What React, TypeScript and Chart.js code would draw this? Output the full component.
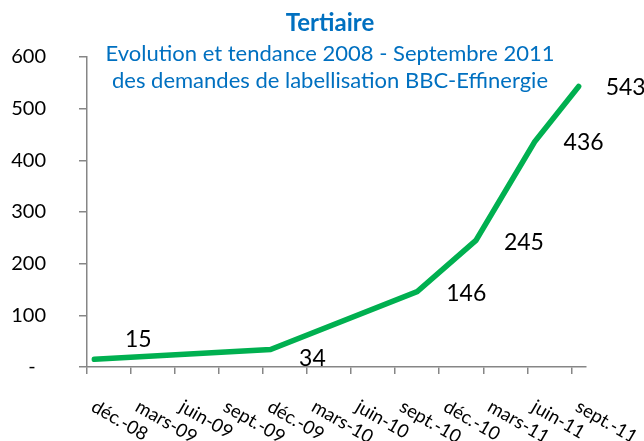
import React, { useEffect, useRef } from 'react';
import { Chart, registerables } from 'chart.js';

Chart.register(...registerables);

// ---- data ----
const pointDates = ['2008-12', '2009-12', '2010-10', '2011-02', '2011-06', '2011-09'];
const values = [15, 34, 146, 245, 436, 543];
const tickLabels = ['déc.-08', 'mars-09', 'juin-09', 'sept.-09', 'déc.-09', 'mars-10', 'juin-10', 'sept.-10', 'déc.-10', 'mars-11', 'juin-11', 'sept.-11'];
const axisStart = '2008-12';
const axisMonths = 34;
const yMin = 0;
const yMax = 600;
const yStep = 100;
const titleText = 'Tertiaire';
const subtitleLines = ['Evolution et tendance 2008 - Septembre 2011', 'des demandes de labellisation BBC-Effinergie'];

// ---- style ----
const labelOffsets: [number, number][] = [[44, -20], [42, 9], [49, 2], [48, 2], [49, 1], [47, 1]];
const FONT = 'Lato, "Open Sans", sans-serif';
const BLUE = '#0070C0';
const GREEN = '#00B050';
const AXIS = '#868686';

const monthIndex = (d: string) => {
  const [y, m] = d.split('-').map(Number);
  const [y0, m0] = axisStart.split('-').map(Number);
  return (y - y0) * 12 + (m - m0);
};

const points = pointDates.map((d, i) => ({ x: monthIndex(d) + 0.5, y: values[i] }));

const textPlugin = {
  id: 'textPlugin',
  afterDraw(chart: any) {
    const ctx = chart.ctx as CanvasRenderingContext2D;
    const xs = chart.scales.x;
    const ys = chart.scales.y;
    ctx.save();
    // title
    ctx.fillStyle = BLUE;
    ctx.textAlign = 'center';
    ctx.textBaseline = 'alphabetic';
    ctx.font = `bold 24px ${FONT}`;
    ctx.fillText(titleText, 330, 31);
    ctx.font = `22px ${FONT}`;
    ctx.fillText(subtitleLines[0], 330, 61);
    ctx.fillText(subtitleLines[1], 330, 88);
    // data labels
    ctx.textBaseline = 'middle';
    ctx.fillStyle = '#000';
    ctx.font = `23px ${FONT}`;
    points.forEach((p, i) => {
      const px = xs.getPixelForValue(p.x);
      const py = ys.getPixelForValue(p.y);
      ctx.fillText(String(values[i]), px + labelOffsets[i][0], py + labelOffsets[i][1]);
    });
    // x tick labels (rotated clockwise)
    ctx.font = `18.5px ${FONT}`;
    ctx.textAlign = 'left';
    ctx.textBaseline = 'middle';
    const angle = (30 * Math.PI) / 180;
    tickLabels.forEach((lab, i) => {
      const tx = xs.getPixelForValue(i * 3);
      ctx.save();
      ctx.translate(tx + 6, xs.top + 38);
      ctx.rotate(angle);
      ctx.fillText(lab, 0, 0);
      ctx.restore();
    });
    ctx.restore();
  },
};

export default function App() {
  const ref = useRef<HTMLCanvasElement>(null);
  useEffect(() => {
    if (!ref.current) return;
    const chart = new Chart(ref.current, {
      type: 'line',
      data: {
        datasets: [
          {
            data: points,
            borderColor: GREEN,
            backgroundColor: GREEN,
            borderWidth: 5.5,
            pointRadius: 0,
            tension: 0,
            borderCapStyle: 'round',
            borderJoinStyle: 'miter',
            fill: false,
          },
        ],
      },
      options: {
        animation: false,
        responsive: false,
        maintainAspectRatio: false,
        layout: { padding: { top: 57, right: 58, left: 0, bottom: 0 } },
        plugins: { legend: { display: false }, tooltip: { enabled: false }, title: { display: false } },
        scales: {
          x: {
            type: 'linear',
            min: 0,
            max: axisMonths,
            afterFit: (s: any) => { s.height = 74; },
            ticks: { stepSize: 3, includeBounds: false, autoSkip: false, maxRotation: 0, callback: () => '' },
            grid: { drawOnChartArea: false, drawTicks: true, tickLength: 7, color: AXIS, lineWidth: 1.5 },
            border: { color: AXIS, width: 1.5 },
          },
          y: {
            min: yMin,
            max: yMax,
            afterFit: (s: any) => { s.width = 87; },
            ticks: {
              stepSize: yStep,
              padding: 33,
              color: '#000',
              font: { family: FONT, size: 20 },
              callback: (v: any) => (v === 0 ? '-  ' : String(v)),
            },
            grid: { drawOnChartArea: false, drawTicks: true, tickLength: 8, color: AXIS, lineWidth: 1.5 },
            border: { color: AXIS, width: 1.5 },
          },
        },
      },
      plugins: [textPlugin],
    } as any);
    return () => chart.destroy();
  }, []);
  return (
    <div style={{ position: 'fixed', left: 0, top: 0, width: 644, height: 441, background: '#fff' }}>
      <canvas ref={ref} width={644} height={441} style={{ display: 'block' }} />
    </div>
  );
}
